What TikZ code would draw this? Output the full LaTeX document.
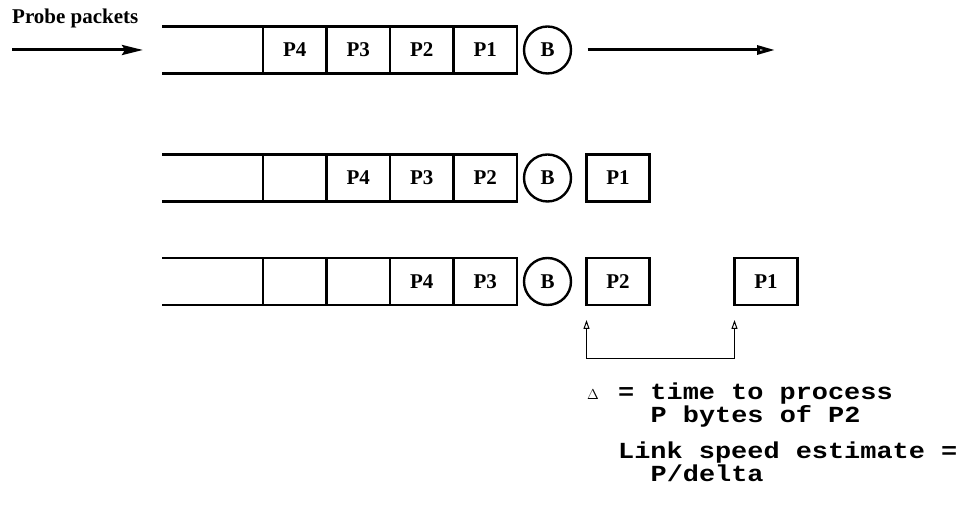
\documentclass[tikz,border=0pt]{standalone}
\usepackage{fontspec}
\setmainfont{Liberation Serif}
\newfontfamily\codefont[FakeStretch=1.17]{Liberation Mono}
\usetikzlibrary{positioning,arrows.meta}

\begin{document}
\begin{tikzpicture}[
  x=1pt, y=1pt,
  font=\fontsize{21}{24}\selectfont\bfseries,
  node distance=0pt,
  cell/.style={draw, line width=2.6pt, minimum width=63.5pt, minimum height=47pt, inner sep=0pt, outer sep=0pt},
  pkt/.style={cell, minimum width=63pt},
  link/.style={draw, circle, line width=2.4pt, minimum size=47pt, inner sep=0pt, outer sep=0pt},
  wire/.style={line width=2.6pt},
  flow/.style={-{Stealth[length=21pt, width=10pt, inset=3pt]}, line width=3pt},
  drain/.style={-{Triangle[open, length=18pt, width=9pt]}, line width=3pt},
  gap/.style={{Triangle[open, length=9pt, width=6pt]}-{Triangle[open, length=9pt, width=6pt]}, line width=1pt},
  code/.style={font=\codefont\bfseries\fontsize{23}{23}\selectfont, anchor=base west, inner sep=0pt, text height=14pt, text depth=3pt},
]
\useasboundingbox (0,0) rectangle (967,516);

% queue 1: all four probes waiting
\node[cell] (a1) at (485.25,466) {P1};
\node[cell, left=of a1] (a2) {P2};
\node[cell, left=of a2] (a3) {P3};
\node[cell, left=of a3] (a4) {P4};
\draw[wire] (a4.north west) -- ++(-101,0) (a4.south west) -- ++(-101,0);
\node[link, right=7pt of a1] (b1) {B};
\coordinate (src) at (12,466);
\coordinate (qin) at (143,466);
\coordinate (sink) at (775,466);
\node[anchor=base west, inner sep=0pt] (probe) at (12,492) {Probe packets};
\draw[flow] (src) -- (qin);
\draw[drain, shorten <=16.5pt] (b1) -- (sink);

% queue 2: P1 has left the bottleneck
\node[cell] (c1) at (485.25,338) {P2};
\node[cell, left=of c1] (c2) {P3};
\node[cell, left=of c2] (c3) {P4};
\node[cell, left=of c3] (c4) {};
\draw[wire] (c4.north west) -- ++(-101,0) (c4.south west) -- ++(-101,0);
\node[link, right=7pt of c1] (b2) {B};
\node[pkt, right=15.5pt of b2] (c0) {P1};

% queue 3: P2 follows, P1 further on
\node[cell] (d1) at (485.25,234.5) {P3};
\node[cell, left=of d1] (d2) {P4};
\node[cell, left=of d2] (d3) {};
\node[cell, left=of d3] (d4) {};
\draw[wire] (d4.north west) -- ++(-101,0) (d4.south west) -- ++(-101,0);
\node[link, right=7pt of d1] (b3) {B};
\node[pkt, right=15.5pt of b3] (d0) {P2};
\node[pkt, right=85pt of d0] (e0) {P1};

% spacing between the two packets
\draw[gap] ([yshift=-15pt]d0.south west) -- ++(0,-39) -| ([yshift=-15pt]e0.south west);

% estimate
\node[anchor=base west, inner sep=0pt, font=\fontsize{15}{15}\selectfont] (delta) at (587,116) {$\Delta$};
\node[code] (t1) at (618,116) {= time to process};
\node[code] (t2) at ([xshift=32.4pt, yshift=-23pt]t1.base west) {P bytes of P2};
\node[code] (t3) at (618,57) {Link speed estimate =};
\node[code] (t4) at ([xshift=32.4pt, yshift=-23pt]t3.base west) {P/delta};
\end{tikzpicture}
\end{document}
